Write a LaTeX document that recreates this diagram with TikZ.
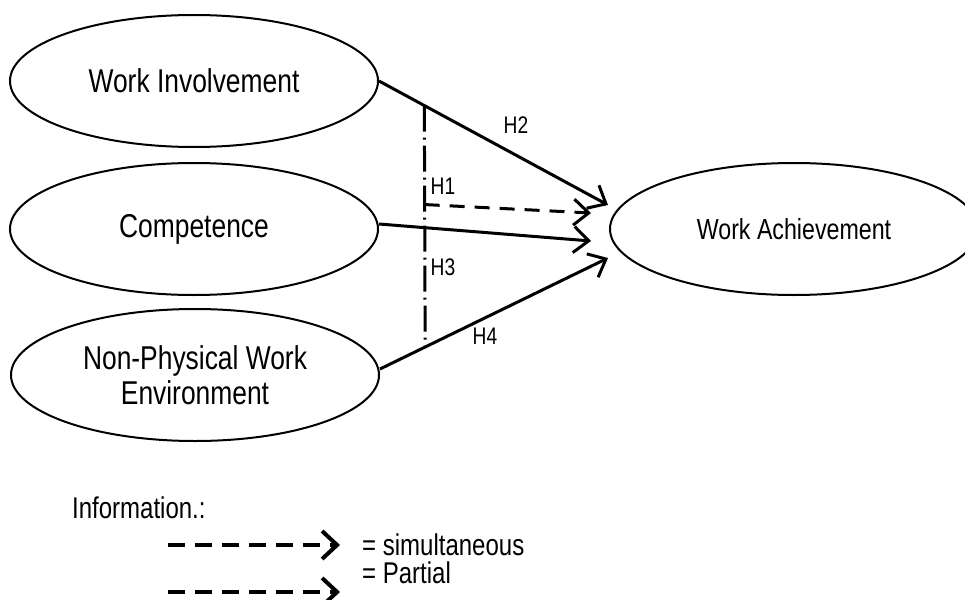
\documentclass[tikz,border=0pt]{standalone}
\usepackage{fontspec}
\setmainfont{Liberation Sans}[FakeStretch=0.8]
\usetikzlibrary{shapes.geometric,arrows.meta,calc}
\begin{document}
\begin{tikzpicture}[x=1pt,y=-1pt,
  latent/.style={ellipse,draw,line width=2pt,minimum width=368pt,minimum height=132pt,inner sep=0pt,align=center,font=\fontsize{33}{35}\selectfont},
  causal/.style={line width=3pt,-{Straight Barb[length=15pt,width=26pt]}},
  dashpat/.style={dash pattern=on 15pt off 10pt},
  dashdotpat/.style={line width=3pt,dash pattern=on 26pt off 6pt on 2pt off 6pt},
  hlab/.style={inner sep=0pt,font=\fontsize{24}{28}\selectfont},
  legtext/.style={inner sep=0pt,anchor=west,font=\fontsize{30}{34}\selectfont},
  legarrow/.style={line width=4pt,dash pattern=on 17pt off 10pt,-{Straight Barb[length=15pt,width=28pt]}}
]
\clip (0,0) rectangle (965,599);
\fill[white] (0,0) rectangle (965,599);

\node[latent] (wi) at (194,81) {Work Involvement};
\node[latent] (co) at (194,229) {Competence};
\node[latent] (np) at (195,375) {Non-Physical Work\\Environment};
\node[latent,font=\fontsize{29}{33}\selectfont] (wa) at (794,229) {Work Achievement};

\coordinate (t2) at ($(wa.west)+(-1,-24)$);
\coordinate (t1) at ($(wa.west)+(-18,-16)$);
\coordinate (tc) at ($(wa.west)+(-18,12)$);
\coordinate (t4) at ($(wa.west)+(-1,29)$);

\draw[causal] (wi.east) -- (t2) coordinate[pos=0.198] (d1);
\draw[causal] ([yshift=5pt]co.east) -- (tc);
\draw[causal] ([yshift=6pt]np.east) -- (t4) coordinate[pos=0.198] (d2);
\draw[dashdotpat] (d1) -- (d2);
\draw[causal,dashpat] ($(d1)!0.41!(d2)$) -- (t1);

\node[hlab] (h2) at (516,125) {H2};
\node[hlab] (h1) at (443,186) {H1};
\node[hlab] (h3) at (443,267) {H3};
\node[hlab] (h4) at (485,336) {H4};

\node[legtext] (info) at (72,508) {Information.:};
\coordinate (l1a) at (168,545);
\coordinate (l1b) at (340,545);
\draw[legarrow] (l1a) -- (l1b);
\node[legtext] (sim) at (362,545) {= simultaneous};
\node[legtext] (par) at (362,573) {= Partial};
\coordinate (l2a) at (168,592);
\coordinate (l2b) at (340,592);
\draw[legarrow] (l2a) -- (l2b);
\end{tikzpicture}
\end{document}
